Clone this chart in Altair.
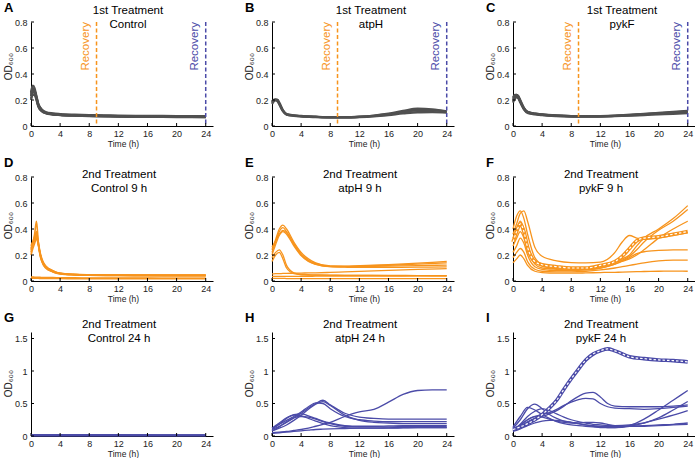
import altair as alt
import pandas as pd

ORANGE = "#F7941D"
BLUE = "#4B4BA8"
GRAY = "#505050"
FONT = "Liberation Sans"

PLOT_W, PLOT_H = 182, 104
X_TICKS = [0, 4, 8, 12, 16, 20, 24]
Y_TICKS_LOW = [0, 0.2, 0.4, 0.6, 0.8]
Y_TICKS_HIGH = [0, 0.5, 1, 1.5]

# ---------------- 1st treatment (OD600 over 24 h) ----------------
T_A = [0, 0.25, 0.5, 0.75, 1, 1.5, 2, 3, 4, 6, 8, 10, 12, 16, 20, 24]
A_CONTROL = [
    [0.26, 0.31, 0.29, 0.23, 0.17, 0.125, 0.108, 0.097, 0.092, 0.087, 0.084, 0.082, 0.080, 0.078, 0.077, 0.076],
    [0.23, 0.28, 0.27, 0.22, 0.16, 0.120, 0.104, 0.094, 0.089, 0.084, 0.081, 0.079, 0.077, 0.075, 0.074, 0.073],
    [0.21, 0.26, 0.26, 0.22, 0.17, 0.125, 0.102, 0.091, 0.086, 0.081, 0.078, 0.076, 0.074, 0.072, 0.071, 0.070],
    [0.24, 0.27, 0.25, 0.20, 0.15, 0.112, 0.098, 0.088, 0.084, 0.079, 0.076, 0.074, 0.072, 0.070, 0.069, 0.068],
    [0.20, 0.24, 0.24, 0.21, 0.16, 0.118, 0.100, 0.090, 0.085, 0.080, 0.077, 0.075, 0.073, 0.071, 0.070, 0.069],
    [0.25, 0.29, 0.27, 0.21, 0.155, 0.115, 0.100, 0.092, 0.088, 0.083, 0.080, 0.078, 0.076, 0.074, 0.073, 0.072],
]

T_BC = [0, 0.25, 0.5, 0.75, 1, 1.5, 2, 3, 4, 6, 8, 10, 12, 14, 16, 18, 20, 22, 24]
B_ATPH = [
    [0.17, 0.19, 0.20, 0.20, 0.18, 0.12, 0.092, 0.082, 0.077, 0.071, 0.067, 0.067, 0.071, 0.080, 0.095, 0.115, 0.133, 0.128, 0.112],
    [0.18, 0.20, 0.205, 0.20, 0.17, 0.115, 0.088, 0.079, 0.074, 0.069, 0.066, 0.066, 0.069, 0.075, 0.085, 0.097, 0.106, 0.107, 0.104],
    [0.19, 0.20, 0.20, 0.19, 0.17, 0.118, 0.090, 0.080, 0.075, 0.070, 0.066, 0.066, 0.070, 0.078, 0.090, 0.106, 0.120, 0.120, 0.110],
]
C_PYKF = [
    [0.21, 0.23, 0.24, 0.23, 0.20, 0.14, 0.110, 0.096, 0.089, 0.081, 0.077, 0.076, 0.077, 0.080, 0.086, 0.093, 0.101, 0.109, 0.117],
    [0.19, 0.22, 0.23, 0.22, 0.19, 0.13, 0.105, 0.092, 0.086, 0.078, 0.074, 0.073, 0.074, 0.077, 0.082, 0.088, 0.095, 0.101, 0.107],
    [0.20, 0.23, 0.235, 0.22, 0.19, 0.135, 0.107, 0.094, 0.087, 0.079, 0.075, 0.074, 0.075, 0.078, 0.083, 0.090, 0.097, 0.103, 0.110],
    [0.18, 0.21, 0.22, 0.21, 0.18, 0.128, 0.100, 0.089, 0.083, 0.076, 0.072, 0.071, 0.072, 0.075, 0.079, 0.084, 0.089, 0.094, 0.098],
    [0.22, 0.24, 0.24, 0.22, 0.19, 0.136, 0.108, 0.095, 0.088, 0.080, 0.076, 0.075, 0.076, 0.079, 0.085, 0.091, 0.098, 0.105, 0.112],
]

# ---------------- 2nd treatment after 9 h recovery ----------------
T_D = [0, 0.25, 0.5, 0.75, 1, 1.25, 1.5, 2, 3, 4, 6, 8, 12, 16, 20, 24]
D_CONTROL_9 = [
    [0.22, 0.29, 0.36, 0.46, 0.30, 0.20, 0.15, 0.105, 0.072, 0.057, 0.049, 0.046, 0.044, 0.043, 0.043, 0.043],
    [0.25, 0.30, 0.34, 0.38, 0.30, 0.22, 0.17, 0.115, 0.078, 0.060, 0.051, 0.048, 0.046, 0.045, 0.045, 0.045],
    [0.27, 0.30, 0.32, 0.35, 0.28, 0.20, 0.15, 0.10, 0.07, 0.055, 0.047, 0.044, 0.042, 0.041, 0.040, 0.040],
    [0.20, 0.25, 0.29, 0.33, 0.28, 0.21, 0.16, 0.115, 0.08, 0.06, 0.05, 0.047, 0.045, 0.044, 0.044, 0.044],
    [0.24, 0.28, 0.31, 0.36, 0.29, 0.21, 0.16, 0.11, 0.075, 0.058, 0.048, 0.045, 0.043, 0.042, 0.041, 0.041],
    [0.030, 0.030, 0.029, 0.029, 0.028, 0.028, 0.027, 0.027, 0.026, 0.025, 0.024, 0.023, 0.022, 0.022, 0.021, 0.021],
    [0.022, 0.022, 0.021, 0.021, 0.021, 0.020, 0.020, 0.020, 0.019, 0.019, 0.018, 0.018, 0.018, 0.018, 0.018, 0.018],
]

T_E = [0, 0.5, 1, 1.5, 2, 3, 4, 5, 6, 8, 10, 12, 16, 20, 24]
E_ATPH_9 = [
    [0.24, 0.32, 0.40, 0.43, 0.40, 0.30, 0.22, 0.17, 0.14, 0.116, 0.115, 0.118, 0.126, 0.138, 0.150],
    [0.22, 0.30, 0.38, 0.41, 0.38, 0.29, 0.21, 0.16, 0.135, 0.113, 0.112, 0.115, 0.121, 0.130, 0.140],
    [0.26, 0.31, 0.36, 0.39, 0.37, 0.28, 0.20, 0.155, 0.13, 0.111, 0.109, 0.110, 0.114, 0.119, 0.122],
    [0.20, 0.28, 0.35, 0.38, 0.36, 0.27, 0.195, 0.15, 0.128, 0.110, 0.106, 0.105, 0.105, 0.106, 0.108],
    [0.18, 0.22, 0.24, 0.20, 0.12, 0.062, 0.050, 0.048, 0.046, 0.045, 0.044, 0.044, 0.043, 0.042, 0.042],
    [0.15, 0.20, 0.22, 0.17, 0.10, 0.056, 0.048, 0.046, 0.045, 0.044, 0.043, 0.043, 0.042, 0.041, 0.040],
    [0.055, 0.056, 0.057, 0.058, 0.059, 0.060, 0.061, 0.062, 0.063, 0.066, 0.070, 0.074, 0.082, 0.090, 0.095],
    [0.020, 0.020, 0.020, 0.020, 0.019, 0.019, 0.019, 0.019, 0.019, 0.018, 0.018, 0.018, 0.018, 0.018, 0.018],
    [0.035, 0.036, 0.036, 0.036, 0.036, 0.036, 0.036, 0.036, 0.037, 0.037, 0.037, 0.038, 0.038, 0.039, 0.040],
]

T_F = [0, 0.5, 1, 1.5, 2, 3, 4, 6, 8, 10, 12, 14, 15, 16, 17, 18, 20, 22, 24]
F_PYKF_9 = [
    [0.40, 0.50, 0.54, 0.48, 0.36, 0.18, 0.13, 0.11, 0.10, 0.10, 0.12, 0.15, 0.17, 0.20, 0.27, 0.33, 0.40, 0.48, 0.58],
    [0.36, 0.44, 0.52, 0.54, 0.46, 0.26, 0.19, 0.155, 0.142, 0.14, 0.145, 0.22, 0.30, 0.35, 0.33, 0.32, 0.33, 0.35, 0.37],
    [0.33, 0.40, 0.46, 0.40, 0.28, 0.15, 0.115, 0.095, 0.09, 0.09, 0.11, 0.14, 0.16, 0.19, 0.24, 0.30, 0.39, 0.46, 0.55],
    [0.27, 0.33, 0.38, 0.33, 0.23, 0.13, 0.10, 0.09, 0.085, 0.087, 0.10, 0.13, 0.15, 0.17, 0.20, 0.24, 0.33, 0.40, 0.46],
    [0.22, 0.27, 0.33, 0.29, 0.20, 0.11, 0.09, 0.08, 0.08, 0.085, 0.10, 0.13, 0.155, 0.18, 0.21, 0.225, 0.235, 0.24, 0.24],
    [0.18, 0.22, 0.25, 0.22, 0.15, 0.09, 0.075, 0.07, 0.07, 0.075, 0.085, 0.10, 0.11, 0.12, 0.13, 0.14, 0.155, 0.16, 0.16],
    [0.14, 0.17, 0.20, 0.17, 0.12, 0.075, 0.065, 0.06, 0.06, 0.062, 0.065, 0.067, 0.068, 0.07, 0.072, 0.073, 0.075, 0.076, 0.075],
]
F_HIGHLIGHT = [0.30, 0.38, 0.44, 0.38, 0.26, 0.15, 0.125, 0.11, 0.10, 0.10, 0.12, 0.15, 0.19, 0.25, 0.31, 0.33, 0.34, 0.36, 0.38]

# ---------------- 2nd treatment after 24 h recovery ----------------
T_G = [0, 2, 4, 8, 12, 16, 20, 24]
G_CONTROL_24 = [
    [0.015, 0.014, 0.014, 0.013, 0.013, 0.013, 0.012, 0.012],
    [0.010, 0.010, 0.010, 0.010, 0.009, 0.009, 0.009, 0.009],
    [0.020, 0.019, 0.018, 0.017, 0.017, 0.016, 0.016, 0.016],
    [0.006, 0.006, 0.006, 0.006, 0.006, 0.006, 0.006, 0.006],
]

T_H = [0, 1, 2, 3, 4, 5, 6, 7, 8, 10, 12, 14, 16, 18, 20, 22, 24]
H_ATPH_24 = [
    [0.05, 0.06, 0.07, 0.085, 0.10, 0.12, 0.15, 0.18, 0.21, 0.30, 0.37, 0.41, 0.52, 0.64, 0.70, 0.71, 0.71],
    [0.10, 0.15, 0.21, 0.28, 0.35, 0.43, 0.50, 0.55, 0.48, 0.35, 0.29, 0.27, 0.26, 0.26, 0.26, 0.26, 0.26],
    [0.12, 0.18, 0.24, 0.30, 0.37, 0.45, 0.51, 0.50, 0.42, 0.30, 0.25, 0.23, 0.22, 0.22, 0.22, 0.22, 0.22],
    [0.08, 0.12, 0.17, 0.24, 0.32, 0.41, 0.49, 0.53, 0.47, 0.32, 0.24, 0.21, 0.20, 0.19, 0.19, 0.19, 0.19],
    [0.10, 0.18, 0.27, 0.33, 0.34, 0.31, 0.27, 0.23, 0.20, 0.16, 0.15, 0.15, 0.155, 0.16, 0.16, 0.16, 0.16],
    [0.12, 0.20, 0.28, 0.32, 0.31, 0.27, 0.23, 0.19, 0.16, 0.13, 0.12, 0.12, 0.125, 0.13, 0.13, 0.13, 0.13],
    [0.08, 0.14, 0.22, 0.28, 0.30, 0.29, 0.26, 0.22, 0.19, 0.15, 0.14, 0.14, 0.14, 0.145, 0.15, 0.15, 0.15],
    [0.04, 0.05, 0.06, 0.07, 0.08, 0.09, 0.10, 0.105, 0.11, 0.115, 0.12, 0.12, 0.12, 0.125, 0.13, 0.13, 0.13],
]

T_I = [0, 1, 2, 3, 4, 5, 6, 7, 8, 9, 10, 11, 12, 13, 14, 16, 18, 20, 22, 24]
I_PYKF_24 = [
    [0.09, 0.15, 0.22, 0.27, 0.30, 0.34, 0.39, 0.46, 0.54, 0.61, 0.66, 0.67, 0.60, 0.50, 0.46, 0.45, 0.45, 0.45, 0.46, 0.48],
    [0.10, 0.17, 0.25, 0.30, 0.33, 0.36, 0.41, 0.47, 0.52, 0.56, 0.58, 0.57, 0.50, 0.45, 0.43, 0.42, 0.41, 0.42, 0.44, 0.46],
    [0.12, 0.25, 0.42, 0.49, 0.42, 0.33, 0.27, 0.23, 0.21, 0.19, 0.17, 0.15, 0.14, 0.13, 0.13, 0.16, 0.26, 0.40, 0.55, 0.70],
    [0.14, 0.30, 0.44, 0.40, 0.33, 0.27, 0.22, 0.19, 0.17, 0.16, 0.15, 0.14, 0.13, 0.13, 0.13, 0.15, 0.20, 0.28, 0.40, 0.53],
    [0.08, 0.18, 0.30, 0.38, 0.42, 0.39, 0.34, 0.29, 0.25, 0.22, 0.20, 0.18, 0.17, 0.16, 0.16, 0.17, 0.20, 0.26, 0.32, 0.39],
    [0.10, 0.17, 0.25, 0.30, 0.29, 0.26, 0.23, 0.21, 0.20, 0.20, 0.21, 0.21, 0.20, 0.18, 0.16, 0.15, 0.16, 0.17, 0.18, 0.20],
    [0.07, 0.11, 0.16, 0.20, 0.23, 0.24, 0.24, 0.23, 0.21, 0.19, 0.17, 0.16, 0.15, 0.15, 0.15, 0.15, 0.15, 0.16, 0.17, 0.18],
]
I_HIGHLIGHT = [0.10, 0.14, 0.19, 0.25, 0.33, 0.43, 0.55, 0.72, 0.88, 1.03, 1.17, 1.26, 1.31, 1.34, 1.31, 1.22, 1.19, 1.17, 1.16, 1.14]

RECOVERY_TIMES = [9, 24]


def to_long(times, curves):
    rows = []
    for i, curve in enumerate(curves):
        for t, v in zip(times, curve):
            rows.append({"t": t, "od": v, "rep": i})
    return pd.DataFrame(rows)


def text_layer(s, x, y, size, color="black", weight="normal"):
    return alt.Chart(pd.DataFrame({"s": [s]})).mark_text(
        font=FONT, fontSize=size, fontWeight=weight, color=color,
        align="left" if weight == "bold" else "center", baseline="alphabetic",
    ).encode(x=alt.value(x), y=alt.value(y), text="s:N")


def panel(letter, title, times, curves, color, ymax, yticks, title_x, title_y,
          ytitle_y, stroke=1.3, highlight=None, recovery=False):
    xs = alt.Scale(domain=[0, 25], nice=False, zero=False)
    ys = alt.Scale(domain=[0, ymax], nice=False)
    common = dict(
        grid=False, ticks=False, domainColor="black", domainWidth=1,
        labelFont=FONT, labelFontSize=9, labelColor="#222",
        titleFont=FONT, titleFontWeight="normal",
        titleColor="#222", labelFlush=False,
    )
    xaxis = alt.Axis(values=X_TICKS, title="Time (h)", titleX=92, titleY=20,
                     titleFontSize=8.5, labelPadding=3,
                     titleAlign="center", titleBaseline="alphabetic", **common)
    yaxis = alt.Axis(values=yticks, format="~g", title="OD₆₀₀", titleAngle=270,
                     titleX=-20, titleY=ytitle_y, titleAlign="center",
                     titleFontSize=10, labelPadding=4,
                     titleBaseline="alphabetic", **common)
    X = alt.X("t:Q", scale=xs, axis=xaxis)
    Y = alt.Y("od:Q", scale=ys, axis=yaxis)

    layers = []
    lines = alt.Chart(to_long(times, curves)).mark_line(
        color=color, strokeWidth=stroke, interpolate="monotone"
    ).encode(x=X, y=Y, detail="rep:N")
    layers.append(lines)

    if highlight is not None:
        hl = pd.DataFrame({"t": times, "od": highlight})
        layers.append(alt.Chart(hl).mark_line(
            color=color, strokeWidth=3.6, interpolate="monotone").encode(x=X, y=Y))
        layers.append(alt.Chart(hl).mark_line(
            color="white", strokeWidth=1.2, strokeDash=[2.5, 2],
            interpolate="monotone").encode(x=X, y=Y))

    if recovery:
        for t_rec, c in zip(RECOVERY_TIMES, [ORANGE, BLUE]):
            rd = pd.DataFrame({"t": [t_rec]})
            layers.append(alt.Chart(rd).mark_rule(
                color=c, strokeWidth=1.5, strokeDash=[4, 2.5]).encode(x=X))
            layers.append(alt.Chart(rd).mark_text(
                angle=270, align="right", baseline="alphabetic", font=FONT,
                fontSize=11.5, color=c, xOffset=-8,
            ).encode(x=X, y=alt.value(0), text=alt.value("Recovery")))

    # inward tick marks, as on the original axes
    layers.append(alt.Chart(pd.DataFrame({"t": X_TICKS})).mark_rule(
        color="black", strokeWidth=1).encode(
        x=X, y=alt.value(PLOT_H), y2=alt.value(PLOT_H - 3)))
    layers.append(alt.Chart(pd.DataFrame({"od": yticks})).mark_rule(
        color="black", strokeWidth=1).encode(
        y=Y, x=alt.value(0), x2=alt.value(3)))

    layers.append(text_layer(title[0], title_x, title_y, 11.5))
    layers.append(text_layer(title[1], title_x, title_y + 14, 11.5))
    layers.append(text_layer(letter, -27, -10, 13, weight="bold"))

    return alt.layer(*layers).properties(width=PLOT_W, height=PLOT_H)


panels = [
    panel("A", ["1st Treatment", "Control"], T_A, A_CONTROL, GRAY, 0.8, Y_TICKS_LOW,
          97, -8, 44, stroke=2.2, recovery=True),
    panel("B", ["1st Treatment", "atpH"], T_BC, B_ATPH, GRAY, 0.8, Y_TICKS_LOW,
          99, -8, 44, stroke=2.4, recovery=True),
    panel("C", ["1st Treatment", "pykF"], T_BC, C_PYKF, GRAY, 0.8, Y_TICKS_LOW,
          109, -8, 44, stroke=2.2, recovery=True),
    panel("D", ["2nd Treatment", "Control 9 h"], T_D, D_CONTROL_9, ORANGE, 0.8,
          Y_TICKS_LOW, 88, 1, 48, stroke=1.6),
    panel("E", ["2nd Treatment", "atpH 9 h"], T_E, E_ATPH_9, ORANGE, 0.8,
          Y_TICKS_LOW, 88, 1, 48),
    panel("F", ["2nd Treatment", "pykF 9 h"], T_F, F_PYKF_9, ORANGE, 0.8,
          Y_TICKS_LOW, 88, 1, 48, highlight=F_HIGHLIGHT),
    panel("G", ["2nd Treatment", "Control 24 h"], T_G, G_CONTROL_24, BLUE, 1.6,
          Y_TICKS_HIGH, 88, -4, 51, stroke=1.6),
    panel("H", ["2nd Treatment", "atpH 24 h"], T_H, H_ATPH_24, BLUE, 1.6,
          Y_TICKS_HIGH, 88, -4, 51),
    panel("I", ["2nd Treatment", "pykF 24 h"], T_I, I_PYKF_24, BLUE, 1.6,
          Y_TICKS_HIGH, 88, -4, 51, highlight=I_HIGHLIGHT),
]

chart = alt.concat(
    *panels, columns=3, bounds="flush",
    spacing=alt.RowColnumber(row=51, column=59),
).properties(
    padding={"left": 3, "top": 2, "right": 0, "bottom": 0},
    background="white",
).configure_view(stroke=None)

chart.save("out.html", embed_options={"renderer": "svg", "actions": False})
